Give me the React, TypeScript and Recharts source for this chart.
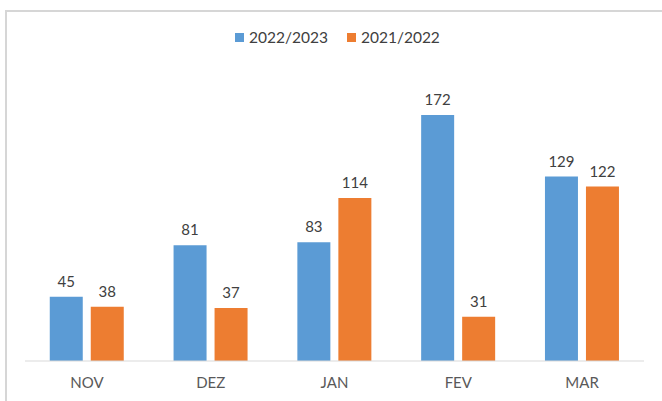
import { BarChart, Bar, XAxis, YAxis, LabelList } from "recharts"

const months = ["NOV", "DEZ", "JAN", "FEV", "MAR"]
const season2223 = [45, 81, 83, 172, 129]
const season2122 = [38, 37, 114, 31, 122]
const seriesNames = ["2022/2023", "2021/2022"]
const seriesColors = ["#5b9bd5", "#ed7d31"]

const data = months.map((m, i) => ({
  month: m,
  a: season2223[i],
  b: season2122[i],
}))

const font = "Lato, 'Open Sans', sans-serif"

function TopLegend() {
  return (
    <div style={{ position: "absolute", left: 235, top: 28, height: 18, display: "flex", alignItems: "center", fontFamily: font, fontSize: 15.5, color: "#404040", whiteSpace: "nowrap" }}>
      {seriesNames.map((name, i) => (
        <span key={name} style={{ display: "inline-flex", alignItems: "center", marginRight: i === 0 ? 19 : 0 }}>
          <span style={{ width: 9, height: 9, background: seriesColors[i], marginRight: 5, display: "inline-block" }} />
          {name}
        </span>
      ))}
    </div>
  )
}

export default function App() {
  return (
    <div style={{ position: "absolute", left: 0, top: 0, width: 662, height: 401, overflow: "hidden", background: "#fff" }}>
      <div style={{ position: "absolute", left: 5, top: 10, width: 700, height: 420, borderLeft: "2px solid #d6d6d6", borderTop: "2px solid #d6d6d6" }} />
      <TopLegend />
      <div style={{ position: "absolute", left: 0, top: 0 }}>
        <BarChart
          width={662}
          height={401}
          data={data}
          margin={{ top: 75, right: 18, left: 25, bottom: 0 }}
          barCategoryGap="20%"
          barGap={8}
        >
          <YAxis hide domain={[0, 200]} />
          <XAxis
            dataKey="month"
            height={40}
            tickLine={false}
            axisLine={{ stroke: "#d9d9d9" }}
            tick={{ fill: "#595959", fontSize: 15, fontFamily: font }}
            tickMargin={10}
          />
          <Bar dataKey="a" fill={seriesColors[0]} isAnimationActive={false}>
            <LabelList dataKey="a" position="top" offset={10} fill="#404040" fontSize={15} fontFamily={font} />
          </Bar>
          <Bar dataKey="b" fill={seriesColors[1]} isAnimationActive={false}>
            <LabelList dataKey="b" position="top" offset={10} fill="#404040" fontSize={15} fontFamily={font} />
          </Bar>
        </BarChart>
      </div>
    </div>
  )
}
